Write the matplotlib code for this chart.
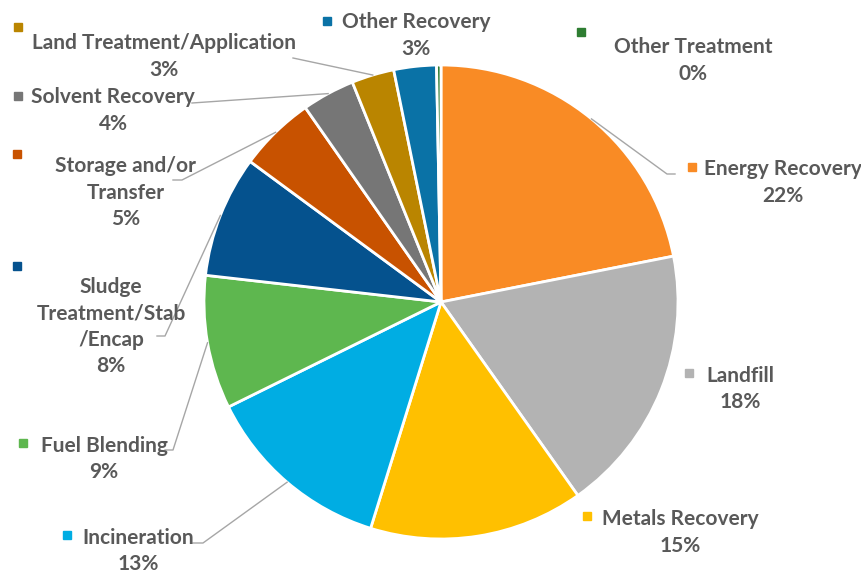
import matplotlib.pyplot as plt
import numpy as np

plt.rcParams['font.family'] = ['Lato', 'DejaVu Sans']

# Share of waste management methods (%), clockwise from 12 o'clock
categories = ['Energy Recovery', 'Landfill', 'Metals Recovery', 'Incineration',
              'Fuel Blending', 'Sludge Treatment/Stab/Encap', 'Storage and/or Transfer',
              'Solvent Recovery', 'Land Treatment/Application', 'Other Recovery',
              'Other Treatment']
shares = [21.9, 18.3, 14.6, 12.9, 9.1, 8.3, 5.2, 3.6, 2.9, 2.9, 0.3]
# label text as wrapped on the chart
label_lines = [['Energy Recovery'], ['Landfill'], ['Metals Recovery'], ['Incineration'],
               ['Fuel Blending'], ['Sludge', 'Treatment/Stab', '/Encap'],
               ['Storage and/or', 'Transfer'], ['Solvent Recovery'],
               ['Land Treatment/Application'], ['Other Recovery'], ['Other Treatment']]

colors = ['#F98B25', '#B3B3B3', '#FFC000', '#00ADE3', '#5EB74F', '#05528E',
          '#C85200', '#767676', '#BA8500', '#0A72A6', '#2E7D32']
text_color = '#595959'
leader_color = '#A6A6A6'

W, H = 862, 574
fig = plt.figure(figsize=(W / 100, H / 100), dpi=100)
ax = fig.add_axes([0, 0, 1, 1])

center = (441, H - 302)
radius = 237
wedges, _ = ax.pie(shares, colors=colors, startangle=90, counterclock=False,
                   radius=radius, center=center,
                   wedgeprops=dict(edgecolor='white', linewidth=2))
ax.set_xlim(0, W)
ax.set_ylim(0, H)
ax.set_aspect('equal')
ax.axis('off')

# label layout in pixels from top-left: (name centre x, first line y, key x, key y)
label_pos = [
    (783, 168, 692, 167),
    (740, 375, 689, 373),
    (680, 518, 587, 516),
    (138, 537, 67, 535),
    (104, 445, 23, 443),
    (111, 286, 17, 266),
    (126, 165, 17, 154),
    (113, 96, 18, 96),
    (164, 42, 18, 27),
    (416, 21, 327, 21),
    (693, 46, 581, 32),
]
# leader line points after the pie edge (pixels from top-left)
leaders = [
    [(667, 174), (675, 174)],
    None,
    None,
    [(203, 543), (193, 543)],
    [(173, 450), (165, 450)],
    [(165, 336), (157, 336)],
    [(182, 180), (173, 180)],
    [(192, 103)],
    [(293, 58)],
    None,
    None,
]

pitch = 26.5
fsize = 15

for i, w in enumerate(wedges):
    cx, y0, kx, ky = label_pos[i]
    lines = label_lines[i] + ['%.0f%%' % shares[i]]
    for j, line in enumerate(lines):
        yc = y0 + j * pitch
        ax.text(cx, H - (yc + 7), line, ha='center', va='baseline',
                fontsize=fsize, fontweight='bold', color=text_color)
    ax.plot(kx, H - ky, marker='s', markersize=6, color=colors[i],
            linestyle='none')

    if leaders[i] is not None:
        mid = np.radians((w.theta1 + w.theta2) / 2)
        xs = [center[0] + radius * np.cos(mid)]
        ys = [center[1] + radius * np.sin(mid)]
        for px, py in leaders[i]:
            xs.append(px)
            ys.append(H - py)
        ax.plot(xs, ys, color=leader_color, linewidth=1)

fig.savefig('out.png', dpi=100)
